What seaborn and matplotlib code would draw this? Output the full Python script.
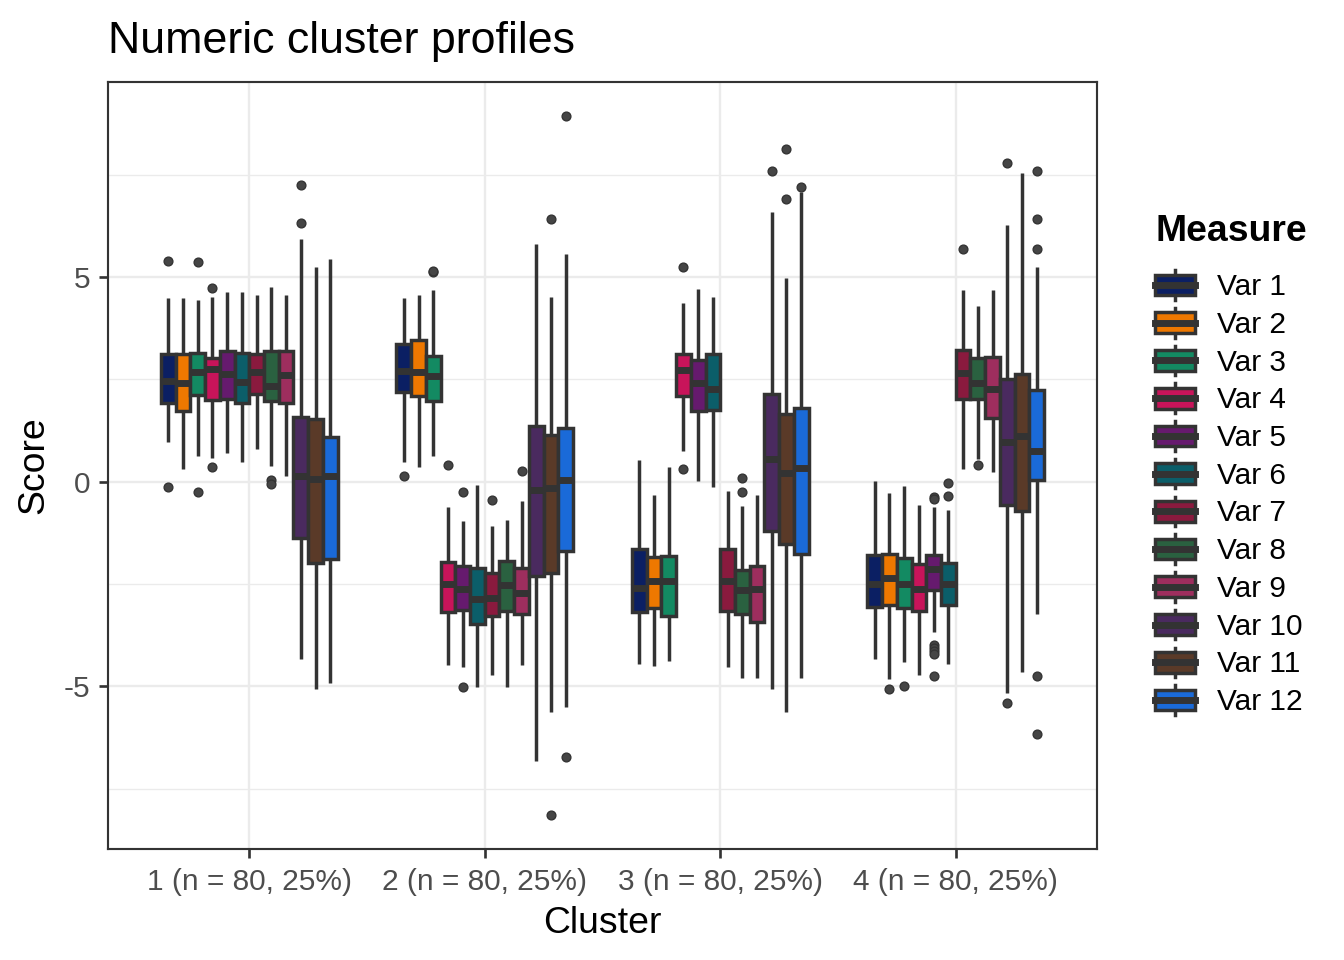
import numpy as np
import pandas as pd
import matplotlib
matplotlib.use("Agg")
import matplotlib.pyplot as plt
import seaborn as sns
from matplotlib.legend_handler import HandlerBase
from matplotlib.patches import Rectangle, Patch
from matplotlib.lines import Line2D
from matplotlib.ticker import FixedLocator

# ---------------- data ----------------
CLUSTERS = ["1 (n = 80, 25%)", "2 (n = 80, 25%)", "3 (n = 80, 25%)", "4 (n = 80, 25%)"]
MEASURES = ["Var 1", "Var 2", "Var 3", "Var 4", "Var 5", "Var 6",
            "Var 7", "Var 8", "Var 9", "Var 10", "Var 11", "Var 12"]
COLORS = ["#0b1f63", "#ee7800", "#138a62", "#c8145a", "#661a6e", "#0b5e69",
          "#8a1a3e", "#2a6140", "#9e2e5e", "#4a2a5f", "#5a3a28", "#1a6ad8"]

WHISKER_LOW = [
    [0.96, 0.31, 0.63, 0.58, 0.70, 0.47, 0.80, 0.39, 0.15, -4.33, -5.07, -4.91],
    [0.47, 0.35, 0.62, -4.48, -4.52, -5.02, -4.72, -5.01, -4.48, -6.82, -5.62, -5.50],
    [-4.45, -4.49, -4.38, 0.76, 0.01, -0.13, -4.53, -4.80, -4.79, -5.07, -5.63, -4.80],
    [-4.34, -4.83, -4.41, -4.72, -3.67, -4.46, 0.32, 0.55, 0.23, -5.17, -4.65, -3.22],
]
Q1 = [
    [1.92, 1.73, 2.11, 1.99, 2.03, 1.91, 2.14, 1.97, 1.91, -1.37, -1.99, -1.89],
    [2.19, 2.09, 1.96, -3.19, -3.13, -3.47, -3.28, -3.17, -3.23, -2.30, -2.22, -1.69],
    [-3.19, -3.09, -3.27, 2.10, 1.72, 1.75, -3.15, -3.22, -3.42, -1.20, -1.53, -1.76],
    [-3.05, -3.01, -3.08, -3.16, -2.64, -3.00, 2.01, 2.02, 1.56, -0.57, -0.71, 0.04],
]
MEDIAN = [
    [2.47, 2.41, 2.67, 2.76, 2.63, 2.43, 2.69, 2.33, 2.61, 0.15, 0.07, 0.15],
    [2.71, 2.69, 2.59, -2.51, -2.63, -2.86, -2.84, -2.53, -2.73, -0.20, -0.15, 0.05],
    [-2.59, -2.43, -2.43, 2.73, 2.42, 2.26, -2.43, -2.65, -2.61, 0.56, 0.21, 0.33],
    [-2.49, -2.35, -2.50, -2.62, -2.13, -2.49, 2.65, 2.42, 2.26, 0.98, 1.12, 0.74],
]
Q3 = [
    [3.11, 3.12, 3.15, 3.01, 3.19, 3.15, 3.13, 3.19, 3.19, 1.58, 1.52, 1.10],
    [3.37, 3.45, 3.07, -1.95, -2.07, -2.10, -2.23, -1.93, -2.12, 1.36, 1.13, 1.30],
    [-1.65, -1.85, -1.81, 3.13, 2.97, 3.13, -1.65, -2.15, -2.05, 2.15, 1.66, 1.81],
    [-1.79, -1.77, -1.87, -2.01, -1.78, -1.99, 3.21, 3.02, 3.04, 2.51, 2.64, 2.23],
]
WHISKER_HIGH = [
    [4.48, 4.48, 4.44, 4.50, 4.64, 4.64, 4.56, 4.76, 4.56, 5.93, 5.24, 5.44],
    [4.48, 4.56, 4.68, -0.62, -0.97, -0.07, -1.09, -0.94, -0.48, 5.80, 4.50, 5.56],
    [0.54, -0.32, 0.36, 4.36, 4.71, 4.50, -0.22, -0.60, -0.32, 6.59, 4.98, 7.08],
    [0.01, -0.28, -0.10, -0.58, -0.63, -0.68, 4.68, 4.30, 4.68, 6.27, 7.53, 5.25],
]
OUTLIERS = [
    [[-0.13, 5.40], [], [-0.24, 5.36], [0.37, 4.72], [], [], [], [0.03, -0.05], [],
     [6.31, 7.25], [], []],
    [[0.15], [], [5.12, 5.15], [0.41], [-0.26, -5.01], [], [-0.44], [], [0.26],
     [], [6.41, -8.14], [8.93, -6.72]],
    [[], [], [], [5.24, 0.31], [], [], [], [0.10, -0.26], [],
     [7.59], [6.91, 8.13], [7.20]],
    [[], [-5.06], [-4.98], [], [-0.38, -0.42, -3.98, -4.06, -4.14, -4.22, -4.75],
     [-0.03, -0.36], [5.69], [0.41], [], [7.79, -5.41], [], [5.69, 6.41, 7.58, -4.75, -6.17]],
]

# Long-form table whose quartiles / whiskers reproduce the summaries above
REP = 20
rows = []
for ci, cl in enumerate(CLUSTERS):
    for mi, ms in enumerate(MEASURES):
        vals = ([WHISKER_LOW[ci][mi]] + [Q1[ci][mi]] * REP + [MEDIAN[ci][mi]] * REP
                + [Q3[ci][mi]] * REP + [WHISKER_HIGH[ci][mi]] + OUTLIERS[ci][mi])
        for v in vals:
            rows.append((cl, ms, v))
df = pd.DataFrame(rows, columns=["Cluster", "Measure", "Score"])

# ---------------- style ----------------
plt.rcParams["font.family"] = ["Liberation Sans", "DejaVu Sans"]
plt.rcParams["axes.unicode_minus"] = False

W, H = 1344, 960
fig = plt.figure(figsize=(7, 5), dpi=192)
L, R, T, B = 108, 1097, 82, 849
ax = fig.add_axes([L / W, 1 - B / H, (R - L) / W, (B - T) / H])

LINE = "#333333"
LW = 1.3
sns.boxplot(
    data=df, x="Cluster", y="Score", hue="Measure",
    order=CLUSTERS, hue_order=MEASURES, palette=COLORS,
    width=0.75, gap=0, saturation=1, linewidth=LW, linecolor=LINE,
    showcaps=False, whis=1.5, fliersize=3.3,
    flierprops=dict(marker="o", markerfacecolor="#454545", markeredgecolor=LINE,
                    markeredgewidth=0.5),
    medianprops=dict(linewidth=2 * LW, color=LINE),
    legend=False, ax=ax,
)

ax.set_xlim(-0.6, 3.6)
ax.set_ylim(-8.97, 9.76)
ax.yaxis.set_major_locator(FixedLocator([-5, 0, 5]))
ax.set_yticklabels(["-5", "0", "5"])
ax.yaxis.set_minor_locator(FixedLocator([-7.5, -2.5, 2.5, 7.5]))
ax.set_axisbelow(True)
ax.grid(which="major", color="#EBEBEB", linewidth=0.9)
ax.grid(which="minor", axis="y", color="#EBEBEB", linewidth=0.5)
for s in ax.spines.values():
    s.set_color(LINE)
    s.set_linewidth(0.8)
ax.tick_params(axis="both", which="major", length=3.4, width=1.0, color=LINE,
               labelsize=11.2, labelcolor="#4D4D4D")
ax.tick_params(axis="x", pad=3.7)
ax.tick_params(axis="y", pad=3.3)
ax.tick_params(which="minor", length=0)

ax.set_xlabel("Cluster", fontsize=14, color="black")
ax.set_ylabel("Score", fontsize=14, color="black")
ax.xaxis.set_label_coords(0.5, (B - 906) / (B - T))
ax.yaxis.set_label_coords((51 - L) / (R - L), 0.5)

fig.text(L / W, 1 - 53 / H, "Numeric cluster profiles", fontsize=16.8,
         color="black", ha="left", va="baseline")


# ---------------- legend with boxplot-style keys ----------------
class BoxKey(HandlerBase):
    def create_artists(self, legend, orig_handle, xdescent, ydescent, width,
                       height, fontsize, trans):
        fc = orig_handle.get_facecolor()
        x0, y0 = -xdescent, -ydescent
        cx, cy = x0 + width / 2, y0 + height / 2
        bh = height * 0.7
        wl = Line2D([cx, cx], [y0, y0 + height], color=LINE, lw=LW, transform=trans)
        rect = Rectangle((x0, cy - bh / 2), width, bh, facecolor=fc, edgecolor=LINE,
                         lw=LW, transform=trans)
        med = Line2D([x0, x0 + width], [cy, cy], color=LINE, lw=2 * LW, transform=trans)
        return [wl, rect, med]


handles = [Patch(facecolor=c, label=m) for c, m in zip(COLORS, MEASURES)]
leg = fig.legend(
    handles=handles, labels=MEASURES, loc="upper left",
    bbox_to_anchor=(1155 / W, 1 - 214 / H), frameon=False,
    borderpad=0, borderaxespad=0, handler_map={Patch: BoxKey()},
    handlelength=1.33, handleheight=1.14, handletextpad=0.75, labelspacing=0.23,
    fontsize=11.2, title="Measure",
    title_fontproperties={"weight": "bold", "size": 14}, alignment="left",
)
leg._legend_box.sep = 8

fig.savefig("out.png", dpi=192)
